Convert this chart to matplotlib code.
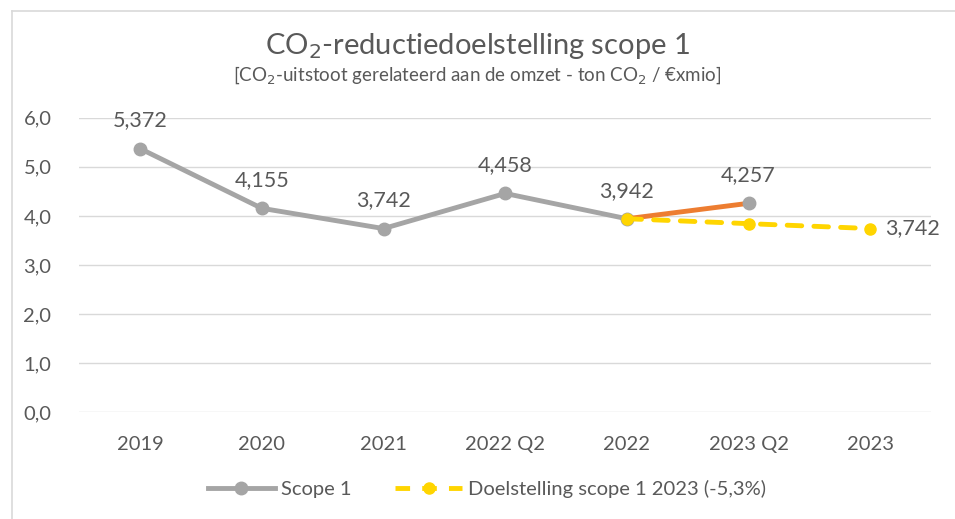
"""CO2-reductiedoelstelling scope 1: Scope 1 history vs. 2023 target."""

import matplotlib

matplotlib.use("Agg")
import matplotlib.pyplot as plt
from matplotlib.lines import Line2D

categories = ["2019", "2020", "2021", "2022 Q2", "2022", "2023 Q2", "2023"]
scope1 = [5.372, 4.155, 3.742, 4.458, 3.942]          # 2019 .. 2022
scope1_q2_2023 = 4.257                                # 2023 Q2
target = [3.942, 3.842, 3.742]                        # 2022 .. 2023
yticks = [0, 1, 2, 3, 4, 5, 6]

GRAY = "#A5A5A5"
ORANGE = "#ED7D31"
YELLOW = "#FFD500"
TEXT = "#595959"
GRID = "#D9D9D9"

plt.rcParams["font.family"] = ["Lato", "DejaVu Sans"]

fig = plt.figure(figsize=(9.55, 5.19), dpi=100)
ax = fig.add_axes([0.083, 0.206, 0.892, 0.567])

x = list(range(len(categories)))

# gray history line
ax.plot(x[:5], scope1, color=GRAY, lw=3.5, marker="o", ms=9, zorder=3,
        solid_capstyle="round")
# orange segment 2022 -> 2023 Q2
ax.plot([x[4], x[5]], [scope1[-1], scope1_q2_2023], color=ORANGE, lw=3.5,
        zorder=3, solid_capstyle="round")
ax.plot([x[5]], [scope1_q2_2023], color=GRAY, marker="o", ms=9, zorder=4)
# yellow target line
ax.plot(x[4:], target, color=YELLOW, lw=3.5, ls=(0, (3, 2.5)), marker="o",
        ms=8, zorder=5, dash_capstyle="round")

LBL = 15.5
for xi, v in zip(x[:5], scope1):
    ax.annotate(f"{v:.3f}".replace(".", ","), (xi, v), xytext=(0, 13),
                textcoords="offset points", ha="center", va="bottom",
                fontsize=LBL, color=TEXT)
ax.annotate(f"{scope1_q2_2023:.3f}".replace(".", ","), (x[5], scope1_q2_2023),
            xytext=(0, 13), textcoords="offset points", ha="center",
            va="bottom", fontsize=LBL, color=TEXT)
ax.annotate(f"{target[-1]:.3f}".replace(".", ","), (x[6], target[-1]),
            xytext=(11, 0), textcoords="offset points", ha="left",
            va="center", fontsize=LBL, color=TEXT)

ax.set_xlim(-0.5, len(categories) - 0.5)
ax.set_ylim(0, 6)
ax.set_yticks(yticks)
ax.set_yticklabels([f"{t:.1f}".replace(".", ",") for t in yticks])
ax.set_xticks(x)
ax.set_xticklabels(categories)
ax.tick_params(axis="both", length=0, labelsize=14.5, labelcolor=TEXT)
ax.tick_params(axis="x", pad=17)
ax.tick_params(axis="y", pad=20)
ax.yaxis.grid(True, color=GRID, lw=1)
ax.set_axisbelow(True)
for s in ax.spines.values():
    s.set_visible(False)

fig.text(0.5, 0.895, "CO$_2$-reductiedoelstelling scope 1", ha="center",
         fontsize=21, color=TEXT)
fig.text(0.5, 0.845,
         "[CO$_2$-uitstoot gerelateerd aan de omzet - ton CO$_2$ / €xmio]",
         ha="center", fontsize=13.5, color=TEXT)

handles = [
    Line2D([], [], color=GRAY, lw=3.5, marker="o", ms=9),
    Line2D([], [], color=YELLOW, lw=3.5, ls=(0, (3, 2.5)), marker="o", ms=8),
]
fig.legend(handles, ["Scope 1", "Doelstelling scope 1 2023 (-5,3%)"],
           loc="center", bbox_to_anchor=(0.51, 0.058), ncol=2, frameon=False,
           fontsize=14.5, labelcolor=TEXT, handlelength=3.3,
           handletextpad=0.3, columnspacing=2.2)

# light frame round the chart
fig.add_artist(Line2D([12 / 955, 12 / 955], [0, 1 - 11 / 519],
                      transform=fig.transFigure, color=GRID, lw=1.2))
fig.add_artist(Line2D([12 / 955, 1], [1 - 11 / 519, 1 - 11 / 519],
                      transform=fig.transFigure, color=GRID, lw=1.2))

fig.savefig("out.png", dpi=100)
